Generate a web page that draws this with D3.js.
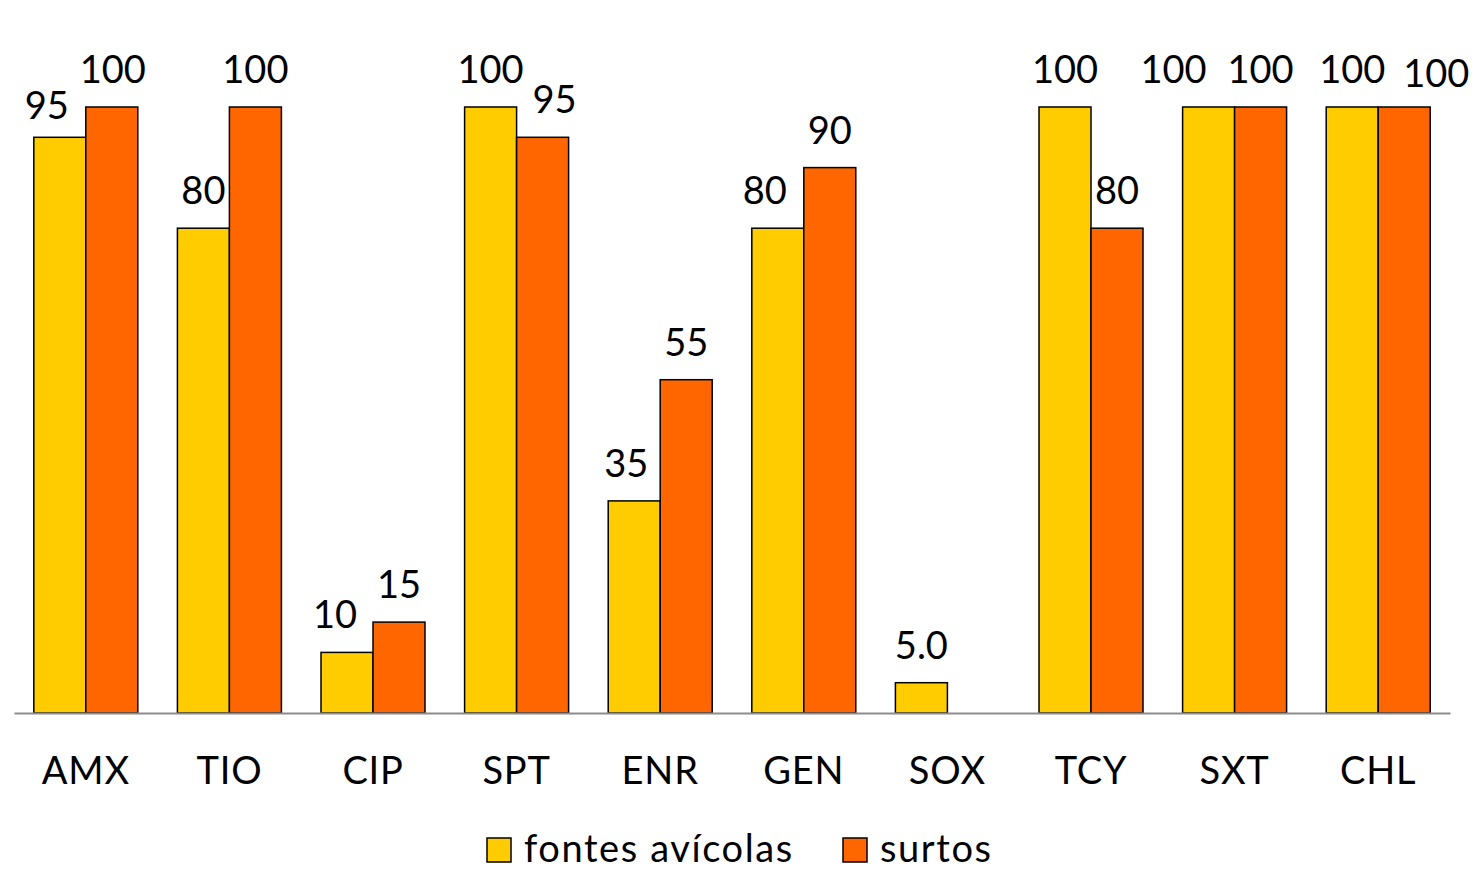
<!DOCTYPE html>
<html>
<head>
<meta charset="utf-8">
<script src="https://cdn.jsdelivr.net/npm/d3@7"></script>
<style>
  html, body { margin: 0; padding: 0; background: #fff; }
  svg { display: block; }
  text { font-family: Lato, "Open Sans", sans-serif; fill: #000; }
</style>
</head>
<body>
<svg id="chart" width="1475" height="879"></svg>
<script>
// ---- data ----
const categories = ["AMX", "TIO", "CIP", "SPT", "ENR", "GEN", "SOX", "TCY", "SXT", "CHL"];
const seriesNames = ["fontes avícolas", "surtos"];
const fontesAvicolas = [95, 80, 10, 100, 35, 80, 5, 100, 100, 100];
const surtos = [100, 100, 15, 95, 55, 90, null, 80, 100, 100];
const labelTexts = [
  ["95", "80", "10", "100", "35", "80", "5.0", "100", "100", "100"],
  ["100", "100", "15", "95", "55", "90", "", "80", "100", "100"]
];
// label collision nudges (Excel-style placement), px
const labelNudgeX = [
  [-13, 0, -12, 0, -8, -13, 0, 0, -35, 0],
  [1, 0, 0, 12, 0, 0, 0, 0, 0, 32]
];
const labelNudgeY = [
  [6, 0, 0, 0, 0, 0, 0, 0, 0, 0],
  [0, 0, 0, 0, 0, 0, 0, 0, 0, 4]
];

const colors = ["#FFCC00", "#FF6600"];
const seriesValues = [fontesAvicolas, surtos];

const svg = d3.select("#chart");
const x = d3.scaleBand().domain(categories).range([14, 1450]).paddingInner(0).paddingOuter(0);
const x1 = d3.scaleBand().domain(d3.range(seriesNames.length)).range([0, x.bandwidth()]).paddingInner(0).paddingOuter(0.381);
const y = d3.scaleLinear().domain([0, 100]).range([713, 107]);

// bars
seriesValues.forEach((vals, si) => {
  svg.append("g").selectAll("rect")
    .data(categories.map((c, i) => ({ c, v: vals[i] })).filter(d => d.v != null))
    .join("rect")
    .attr("x", d => x(d.c) + x1(si))
    .attr("y", d => y(d.v))
    .attr("width", x1.bandwidth())
    .attr("height", d => y(0) - y(d.v))
    .attr("fill", colors[si])
    .attr("stroke", "#000")
    .attr("stroke-width", 1.5);
});

// baseline axis
const xAxis = d3.axisBottom(x).tickSize(0).tickPadding(0);
const gx = svg.append("g").attr("transform", `translate(0,${y(0)})`).call(xAxis);
gx.select(".domain").attr("stroke", "#8c8c8c").attr("stroke-width", 2);
gx.selectAll(".tick text")
  .attr("y", 71)
  .attr("dy", 0)
  .style("font-family", "Lato, 'Open Sans', sans-serif")
  .style("font-size", "38px")
  .style("letter-spacing", "0.8px")
  .attr("fill", "#000");

// data labels
seriesValues.forEach((vals, si) => {
  svg.append("g").selectAll("text")
    .data(categories.map((c, i) => ({ c, i, v: vals[i] })).filter(d => d.v != null))
    .join("text")
    .attr("x", d => x(d.c) + x1(si) + x1.bandwidth() / 2 + labelNudgeX[si][d.i])
    .attr("y", d => y(d.v) - 24 + labelNudgeY[si][d.i])
    .attr("text-anchor", "middle")
    .style("font-size", "38px")
    .text(d => labelTexts[si][d.i]);
});

// legend
const legend = svg.append("g");
const legendItems = [
  { name: seriesNames[0], color: colors[0], x: 487 },
  { name: seriesNames[1], color: colors[1], x: 843 }
];
legendItems.forEach(it => {
  legend.append("rect").attr("x", it.x).attr("y", 838).attr("width", 24).attr("height", 24)
    .attr("fill", it.color).attr("stroke", "#000").attr("stroke-width", 1.5);
  legend.append("text").attr("x", it.x + 37).attr("y", 862)
    .style("font-size", "38px").style("letter-spacing", "1.6px").text(it.name);
});
</script>
</body>
</html>
